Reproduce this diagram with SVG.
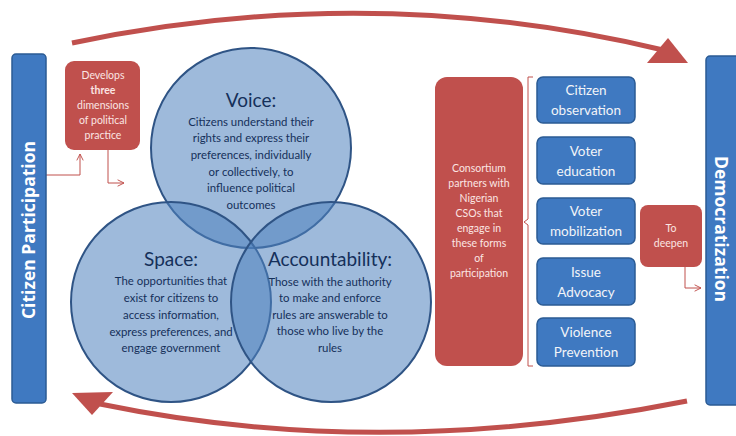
<svg xmlns="http://www.w3.org/2000/svg" width="736" height="436" viewBox="0 0 736 436">
  <defs>
    <style>
      .bar { fill: #3f79c1; stroke: #2b5b94; stroke-width: 1.5; }
      .bar-text { font-family: "Open Sans", "DejaVu Sans", sans-serif; font-weight: bold; font-size: 17.5px; fill: #ffffff; text-anchor: middle; }
      .red-box { fill: #c0504d; }
      .red-text { font-family: Lato, "Liberation Sans", sans-serif; font-size: 10.5px; fill: #fbe5e3; text-anchor: middle; }
      .circle { fill: #4f81bd; fill-opacity: 0.55; stroke: #2f5485; stroke-width: 2; }
      .c-title { font-family: Lato, "Liberation Sans", sans-serif; font-size: 19px; fill: #15305a; text-anchor: middle; }
      .c-body { font-family: Lato, "Liberation Sans", sans-serif; font-size: 11.4px; fill: #15305a; text-anchor: middle; }
      .form-box { fill: #3f79c1; stroke: #2b5b94; stroke-width: 1.5; }
      .form-text { font-family: Lato, "Liberation Sans", sans-serif; font-size: 13.5px; fill: #f2f4f8; text-anchor: middle; }
      .thin { fill: none; stroke: #c0504d; stroke-width: 1; }
      .big-arc { fill: none; stroke: #c0504d; stroke-width: 5; }
      .head { fill: #c0504d; }
    </style>
    <marker id="open-arrow" viewBox="0 0 10 10" refX="9" refY="5" markerWidth="8" markerHeight="8" markerUnits="userSpaceOnUse" orient="auto">
      <path d="M1,1 L9,5 L1,9" fill="none" stroke="#c0504d" stroke-width="1.2"/>
    </marker>
  </defs>

  <rect width="736" height="436" fill="#ffffff"/>

  <!-- connectors -->
  <g id="connectors">
    <!-- large cycle arrows -->
    <path class="big-arc" d="M72,43 Q370,-20 663,50"/>
    <polygon class="head" points="647,63 688,63 668,38"/>
    <path class="big-arc" d="M687,401 Q380,462 100,404"/>
    <polygon class="head" points="72,393 113,392 92,415"/>
    <!-- small elbow arrows -->
    <polyline class="thin" points="46,175 80,175 80,154" marker-end="url(#open-arrow)"/>
    <polyline class="thin" points="108,150 108,183 124,183" marker-end="url(#open-arrow)"/>
    <polyline class="thin" points="685,267 685,288 701,288" marker-end="url(#open-arrow)"/>
    <!-- brace grouping the forms of participation -->
    <path class="thin" d="M533,77 L528,77 L528,219 L524,222 L528,225 L528,366 L533,366"/>
  </g>

  <!-- left bar -->
  <g id="citizen-participation">
    <rect class="bar" x="12" y="54" width="34" height="349" rx="4"/>
    <text class="bar-text" transform="translate(35,230) rotate(-90)">Citizen Participation</text>
  </g>

  <!-- right bar -->
  <g id="democratization">
    <rect class="bar" x="706" y="56" width="36" height="349" rx="4"/>
    <text class="bar-text" transform="translate(715,229) rotate(90)">Democratization</text>
  </g>

  <g id="develops">
    <rect class="red-box" x="65" y="61" width="75" height="89" rx="9"/>
    <text class="red-text" x="103" y="79">Develops</text>
    <text class="red-text" x="103" y="94" font-weight="bold">three</text>
    <text class="red-text" x="103" y="109">dimensions</text>
    <text class="red-text" x="103" y="124">of political</text>
    <text class="red-text" x="103" y="139">practice</text>
  </g>

  <!-- three overlapping dimensions -->
  <g id="voice">
    <circle class="circle" cx="251" cy="148" r="100"/>
  </g>
  <g id="space">
    <circle class="circle" cx="171" cy="302" r="100"/>
  </g>
  <g id="accountability">
    <circle class="circle" cx="331" cy="302" r="100"/>
  </g>

  <g id="voice-label">
    <text class="c-title" x="251" y="107">Voice:</text>
    <text class="c-body" x="251" y="126">Citizens understand their</text>
    <text class="c-body" x="251" y="142">rights and express their</text>
    <text class="c-body" x="251" y="159">preferences, individually</text>
    <text class="c-body" x="251" y="176">or collectively, to</text>
    <text class="c-body" x="251" y="192">influence political</text>
    <text class="c-body" x="251" y="209">outcomes</text>
  </g>
  <g id="space-label">
    <text class="c-title" x="171" y="266">Space:</text>
    <text class="c-body" x="171" y="285">The opportunities that</text>
    <text class="c-body" x="171" y="302">exist for citizens to</text>
    <text class="c-body" x="171" y="319">access information,</text>
    <text class="c-body" x="171" y="336">express preferences, and</text>
    <text class="c-body" x="171" y="352">engage government</text>
  </g>
  <g id="accountability-label">
    <text class="c-title" x="330" y="266">Accountability:</text>
    <text class="c-body" x="330" y="286">Those with the authority</text>
    <text class="c-body" x="330" y="302">to make and enforce</text>
    <text class="c-body" x="330" y="319">rules are answerable to</text>
    <text class="c-body" x="330" y="335">those who live by the</text>
    <text class="c-body" x="330" y="352">rules</text>
  </g>

  <g id="consortium">
    <rect class="red-box" x="435" y="77" width="88" height="289" rx="12"/>
    <text class="red-text" x="479" y="172">Consortium</text>
    <text class="red-text" x="479" y="187">partners with</text>
    <text class="red-text" x="479" y="202">Nigerian</text>
    <text class="red-text" x="479" y="217">CSOs that</text>
    <text class="red-text" x="479" y="232">engage in</text>
    <text class="red-text" x="479" y="247">these forms</text>
    <text class="red-text" x="479" y="262">of</text>
    <text class="red-text" x="479" y="277">participation</text>
  </g>

  <g id="citizen-observation">
    <rect class="form-box" x="537" y="77" width="98" height="46" rx="6"/>
    <text class="form-text" x="586" y="95">Citizen</text>
    <text class="form-text" x="586" y="115">observation</text>
  </g>
  <g id="voter-education">
    <rect class="form-box" x="537" y="137" width="98" height="47" rx="6"/>
    <text class="form-text" x="586" y="156">Voter</text>
    <text class="form-text" x="586" y="176">education</text>
  </g>
  <g id="voter-mobilization">
    <rect class="form-box" x="537" y="198" width="98" height="46" rx="6"/>
    <text class="form-text" x="586" y="216">Voter</text>
    <text class="form-text" x="586" y="236">mobilization</text>
  </g>
  <g id="issue-advocacy">
    <rect class="form-box" x="537" y="258" width="98" height="47" rx="6"/>
    <text class="form-text" x="586" y="277">Issue</text>
    <text class="form-text" x="586" y="297">Advocacy</text>
  </g>
  <g id="violence-prevention">
    <rect class="form-box" x="537" y="318" width="98" height="48" rx="6"/>
    <text class="form-text" x="586" y="337">Violence</text>
    <text class="form-text" x="586" y="357">Prevention</text>
  </g>

  <g id="to-deepen">
    <rect class="red-box" x="640" y="205" width="62" height="62" rx="8"/>
    <text class="red-text" x="671" y="232">To</text>
    <text class="red-text" x="671" y="247">deepen</text>
  </g>
</svg>
